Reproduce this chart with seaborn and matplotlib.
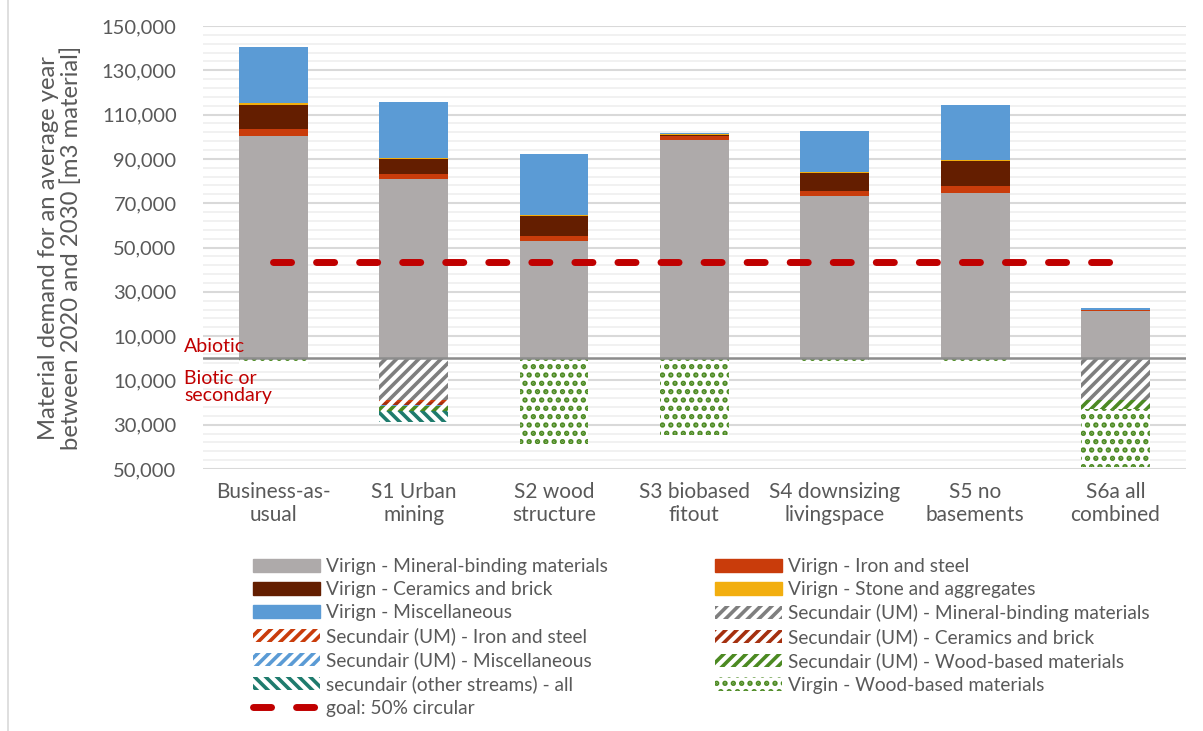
import matplotlib
matplotlib.use("Agg")
import matplotlib.pyplot as plt
from matplotlib.patches import Patch
from matplotlib.lines import Line2D
from matplotlib.ticker import FixedLocator, FuncFormatter
import numpy as np
import pandas as pd
import seaborn as sns

# Scenarios
categories = ["Business-as-\nusual", "S1 Urban\nmining", "S2 wood\nstructure",
              "S3 biobased\nfitout", "S4 downsizing\nlivingspace", "S5 no\nbasements",
              "S6a all\ncombined"]

# Abiotic, virgin material demand [m3 per year]
virgin_mineral = [100400, 81000, 53000, 98700, 73100, 74600, 21200]
virgin_iron = [3000, 2200, 2400, 1800, 2300, 3100, 700]
virgin_ceramics = [11100, 6600, 9000, 200, 8400, 11200, 100]
virgin_stone = [600, 800, 200, 400, 100, 600, 0]
virgin_misc = [25200, 25000, 27700, 600, 18500, 24900, 900]

# Biotic or secondary material demand [m3 per year], drawn below zero
sec_mineral = [0, 19000, 0, 0, 0, 0, 19000]
sec_iron = [0, 700, 0, 0, 0, 0, 0]
sec_ceramics = [0, 1500, 0, 0, 0, 0, 0]
sec_misc = [0, 200, 0, 0, 0, 0, 0]
sec_wood = [0, 2200, 0, 0, 0, 0, 3700]
sec_other = [0, 5200, 0, 0, 0, 0, 200]
virgin_wood = [2400, 0, 38800, 34500, 2000, 2800, 26100]

goal_value = 43300

sns.set_theme(style="white")
plt.rcParams["font.family"] = ["Lato", "DejaVu Sans"]
plt.rcParams["hatch.linewidth"] = 2.6

TXT = "#595959"
C_MIN = "#AEAAAA"
C_IRON = "#C93C0B"
C_CER = "#641E00"
C_STONE = "#F2AE0F"
C_MISC = "#5B9BD5"
C_WOOD = "#4C8A22"
C_TEAL = "#1E7B6D"
C_GOAL = "#C00000"
C_SMIN = "#7F7F7F"
C_SCER = "#A5300F"

H_DIAG = "///"
H_BACK = "\\\\\\"
H_DOTS = ".."

fig = plt.figure(figsize=(12.03, 7.31), dpi=100)
ax = fig.add_axes([203 / 1203, 1 - 469 / 731, 982.7 / 1203, 443 / 731])

bar_w = 0.49
common = dict(order=categories, width=bar_w, saturation=1, errorbar=None, ax=ax)

# positive stack: draw cumulative totals from the top down
pos_layers = [
    (virgin_mineral, C_MIN), (virgin_iron, C_IRON), (virgin_ceramics, C_CER),
    (virgin_stone, C_STONE), (virgin_misc, C_MISC),
]
pos_cum = np.cumsum([np.array(v, float) for v, _ in pos_layers], axis=0)
for i in range(len(pos_layers) - 1, -1, -1):
    df = pd.DataFrame({"scenario": categories, "value": pos_cum[i]})
    sns.barplot(data=df, x="scenario", y="value", color=pos_layers[i][1],
                linewidth=0, zorder=2, **common)

# negative stack (biotic or secondary), from zero downward
neg_layers = [
    (sec_mineral, C_SMIN, H_DIAG), (sec_iron, C_IRON, H_DIAG),
    (sec_ceramics, C_SCER, H_DIAG), (sec_misc, C_MISC, H_DIAG),
    (sec_wood, C_WOOD, H_DIAG), (sec_other, C_TEAL, H_BACK),
    (virgin_wood, C_WOOD, H_DOTS),
]
neg_cum = -np.cumsum([np.array(v, float) for v, _, _ in neg_layers], axis=0)
for i in range(len(neg_layers) - 1, -1, -1):
    df = pd.DataFrame({"scenario": categories, "value": neg_cum[i]})
    sns.barplot(data=df, x="scenario", y="value", color="white",
                edgecolor=neg_layers[i][1], hatch=neg_layers[i][2],
                linewidth=0, zorder=2, **common)

# goal line
ax.plot(np.arange(len(categories)), [goal_value] * len(categories),
        color=C_GOAL, lw=5, dashes=(2.6, 3.6), dash_capstyle="round", zorder=4)

ax.axhline(0, color="#8C8C8C", lw=1.8, zorder=5)

ax.set_xlim(-0.5, len(categories) - 0.5)
ax.set_ylim(-50000, 150000)
major = np.arange(-50000, 150001, 20000)
minor = np.arange(-50000, 150001, 4000)
ax.yaxis.set_major_locator(FixedLocator(major))
ax.yaxis.set_minor_locator(FixedLocator(minor))
ax.yaxis.set_major_formatter(FuncFormatter(lambda v, p: f"{abs(v):,.0f}"))
ax.grid(axis="y", which="major", color="#D9D9D9", lw=1.5, zorder=0)
ax.grid(axis="y", which="minor", color="#F0F0F0", lw=1.3, zorder=0)
ax.set_axisbelow(True)
for s in ax.spines.values():
    s.set_visible(False)
ax.tick_params(axis="y", which="both", length=0, labelsize=14.5, labelcolor=TXT, pad=19)
ax.tick_params(axis="x", length=0, labelsize=15, labelcolor=TXT, pad=9)
ax.set_xlabel("")
ax.set_ylabel("")

fig.text(60 / 1203, 1 - 248 / 731,
         "Material demand for an average year\nbetween 2020 and 2030 [m3 material]",
         rotation=90, ha="center", va="center", ma="center", fontsize=17.2, color=TXT,
         linespacing=1.1)

fig.text(184 / 1203, 1 - 347 / 731, "Abiotic", color=C_GOAL, fontsize=14,
         ha="left", va="center")
fig.text(184 / 1203, 1 - 387 / 731, "Biotic or\nsecondary", color=C_GOAL, fontsize=14,
         ha="left", va="center", linespacing=1.05)

# frame line at the left edge of the chart area
fig.add_artist(Line2D([8 / 1203, 8 / 1203], [0, 1], transform=fig.transFigure,
                      color="#D9D9D9", lw=1.2))

def hpatch(color, hatch):
    return Patch(facecolor="white", edgecolor=color, hatch=hatch, linewidth=0)

left_items = [
    (Patch(color=C_MIN), "Virign - Mineral-binding materials"),
    (Patch(color=C_CER), "Virign - Ceramics and brick"),
    (Patch(color=C_MISC), "Virign - Miscellaneous"),
    (hpatch(C_IRON, H_DIAG), "Secundair (UM) - Iron and steel"),
    (hpatch(C_MISC, H_DIAG), "Secundair (UM) - Miscellaneous"),
    (hpatch(C_TEAL, H_BACK), "secundair (other streams) - all"),
    (Line2D([], [], color=C_GOAL, lw=5, dashes=(2.6, 3.6), dash_capstyle="round"),
     "goal: 50% circular"),
]
right_items = [
    (Patch(color=C_IRON), "Virign - Iron and steel"),
    (Patch(color=C_STONE), "Virign - Stone and aggregates"),
    (hpatch(C_SMIN, H_DIAG), "Secundair (UM) - Mineral-binding materials"),
    (hpatch(C_SCER, H_DIAG), "Secundair (UM) - Ceramics and brick"),
    (hpatch(C_WOOD, H_DIAG), "Secundair (UM) - Wood-based materials"),
    (hpatch(C_WOOD, H_DOTS), "Virgin - Wood-based materials"),
]
leg_kw = dict(loc="upper left", frameon=False, fontsize=13.8, labelcolor=TXT,
              handlelength=3.5, handleheight=0.7, handletextpad=0.3,
              labelspacing=0.32, borderpad=0, borderaxespad=0)
fig.legend([h for h, _ in left_items], [l for _, l in left_items],
           bbox_to_anchor=(253 / 1203, 1 - 558 / 731), **leg_kw)
fig.legend([h for h, _ in right_items], [l for _, l in right_items],
           bbox_to_anchor=(715 / 1203, 1 - 558 / 731), **leg_kw)

fig.savefig("out.png", dpi=100)
